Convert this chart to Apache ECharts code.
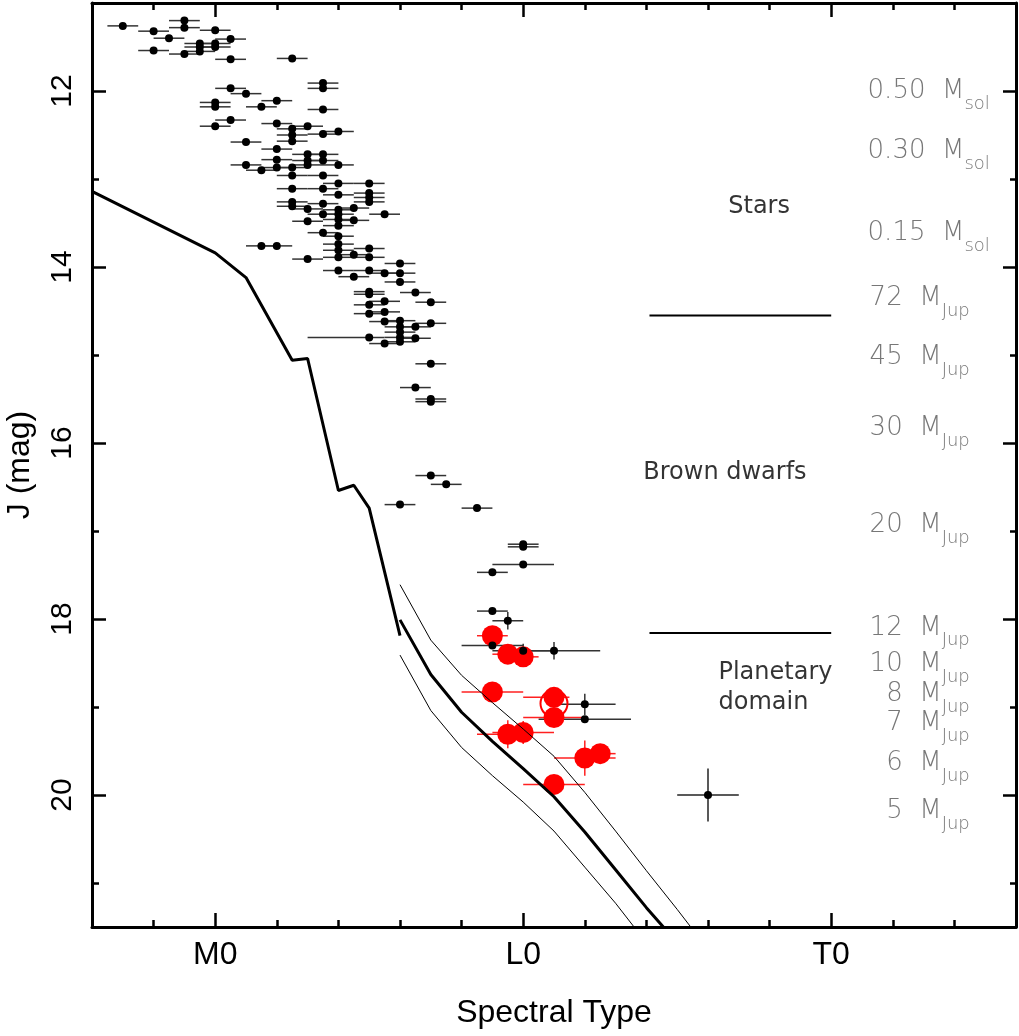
<!DOCTYPE html>
<html>
<head>
<meta charset="utf-8">
<script src="https://cdn.jsdelivr.net/npm/echarts@6/dist/echarts.min.js"></script>
<style>
    html, body { margin: 0; padding: 0; background: #fff; }
    #chart { width: 1019px; height: 1036px; }
</style>
</head>
<body>
<div id="chart"></div>
<script>
// spectral type: M0 = 0, L0 = 10, T0 = 20
var spectralTicks = [0, 10, 20];
var spectralNames = ['M0', 'L0', 'T0'];
var spectralMinor = [-2, 2, 4, 6, 8, 12, 14, 16, 18, 22, 24];
var jTicks = [12, 14, 16, 18, 20];
var jMinor = [13, 15, 17, 19, 21];

// field objects [spt, J], error in spt +-0.5
var fieldPoints = [
    [-3,11.26],[-2,11.32],[-1,11.20],[-1,11.28],[0,11.31],[-1.5,11.40],[0.5,11.41],[-0.5,11.46],[-0.5,11.50],[-0.5,11.55],
    [0,11.46],[0,11.50],[-2,11.54],[-1,11.58],[0.5,11.64],[2.5,11.63],
    [3.5,11.91],[3.5,11.97],[0.5,11.97],[1,12.03],[0,12.13],[0,12.18],[2,12.11],[1.5,12.18],[3.5,12.21],
    [0.5,12.33],[0,12.40],[2,12.37],[3,12.40],[2.5,12.43],[2.5,12.50],[2.5,12.57],[3.5,12.49],[4,12.46],[1,12.58],
    [2,12.66],[2,12.78],[3,12.72],[3,12.79],[3,12.84],[3.5,12.72],[3.5,12.79],[1,12.84],[1.5,12.90],[2,12.87],
    [2.5,12.87],[2.5,12.96],[4,12.84],[3.5,12.96],
    [4,13.05],[5,13.05],[2.5,13.11],[3.5,13.11],[4,13.18],[5,13.16],[5,13.21],[5,13.26],[2.5,13.26],[2.5,13.31],
    [3.5,13.28],[3,13.34],[4.5,13.33],[5.5,13.40],[3.5,13.40],[4,13.35],[4,13.40],[4,13.46],[4,13.53],[3,13.48],[4.5,13.47],
    [3.5,13.61],[4,13.65],[4,13.74],[4,13.81],[4,13.89],[1.5,13.76],[2,13.76],[5,13.79],[4.5,13.86],[5,13.89],[3,13.91],[6,13.96],
    [4,14.04],[4.5,14.11],[5,14.04],[5.5,14.07],[6,14.07],[6,14.17],[5,14.28],[5,14.31],[6.5,14.29],[7,14.40],[5.5,14.39],
    [5,14.43],[5,14.53],[5.5,14.51],[5.5,14.62],[6,14.61],[6,14.68],[6,14.74],[6,14.80],[6,14.85],[6.5,14.68],[7,14.64],
    [6.5,14.81],[5.5,14.87],
    [7,15.10],[6.5,15.37],[7,15.50],[7,15.53],[7,16.37],[7.5,16.47],[6,16.70],[8.5,16.74],[10,17.15],[10,17.18],[9,17.47],[9,17.91]
];
// field objects with their own errors [spt, J, err left, err right, err J]
var fieldPointsWide = [
    [5,14.80,2,0.5,0],[10,17.38,1,1,0],[9.5,18.02,0.5,0.5,0.1],[9,18.30,1,1,0],
    [10,18.36,1,1,0.08],[11,18.36,1,1.5,0.1],[12,18.97,1,1,0.12],[12,19.14,1.5,1.5,0]
];
// planetary-mass candidates [spt, J, err left, err right, err J]
var planetPoints = [
    [9,18.19,0.5,0.5,0.1],[9.5,18.40,0.5,0.5,0],[10,18.43,0.5,0.5,0],[9,18.83,1,1,0],[11,18.89,1,0.5,0],
    [11,19.12,1,1,0],[9.5,19.31,1,0.5,0.16],[10,19.29,1,1,0.13],[12,19.58,1,1,0.2],[12.5,19.53,0.5,0.5,0],[11,19.88,1,1,0]
];
var openCircles = [[11, 18.96]];
var typicalError = [[16, 20.0, 1, 1, 0.3]];

// isochrone tracks
var starCurve = [[-4,13.14],[0,13.84],[1,14.12],[2.5,15.06],[3,15.04],[4,16.54],[4.5,16.48],[5,16.74],[6,18.19]];
var trackMid = [[6,18.01],[7,18.63],[8,19.06],[9,19.39],[10,19.70],[11,20.02],[12,20.42],[13,20.85],[14,21.28],[14.55,21.5]];
var trackUpper = [[6,17.61],[7,18.24],[8,18.64],[9,18.95],[10,19.25],[11,19.56],[12,19.97],[13,20.41],[14,20.86],[15,21.3],[15.44,21.5]];
var trackLower = [[6,18.41],[7,19.04],[8,19.46],[9,19.78],[10,20.08],[11,20.41],[12,20.82],[13,21.23],[13.6,21.5]];

// domain boundaries
var boundaryJ = [14.55, 18.16];
var boundarySpt = [14.1, 20];

// mass scale on the right
var massValue = ['0.50','0.30','0.15','72','45','30','20','12','10','8','7','6','5'];
var massUnit = ['sol','sol','sol','Jup','Jup','Jup','Jup','Jup','Jup','Jup','Jup','Jup','Jup'];
var massJ = [12.0,12.68,13.62,14.36,15.03,15.83,16.94,18.10,18.51,18.86,19.18,19.64,20.19];

var regionNames = ['Stars', 'Brown dwarfs', 'Planetary\ndomain'];
var regionSpt = [17.66, 16.55, 16.34];
var regionJ = [13.31, 16.34, 18.78];
var regionAlign = ['center', 'center', 'left'];

var axisFont = 'Liberation Sans';
var myChart = echarts.init(document.getElementById('chart'), null, {renderer: 'canvas'});

function frame(pos, min, max, ticks, len, inverse) {
    return {
        type: 'value', position: pos, min: min, max: max, inverse: !!inverse,
        axisLine: {show: true, onZero: false, lineStyle: {color: '#000', width: 3}},
        axisTick: {show: true, inside: true, length: len, customValues: ticks, lineStyle: {color: '#000', width: 2.5}},
        axisLabel: {show: false},
        splitLine: {show: false}
    };
}

function errBars(color, width) {
    return function (params, api) {
        var x = api.value(0), y = api.value(1);
        var lo = api.value(2), hi = api.value(3), v = api.value(4);
        var a = api.coord([x - lo, y]), b = api.coord([x + hi, y]);
        var kids = [{type: 'line', shape: {x1: a[0], y1: a[1], x2: b[0], y2: b[1]}, style: {stroke: color, lineWidth: width}}];
        if (v > 0) {
            var c = api.coord([x, y - v]), d = api.coord([x, y + v]);
            kids.push({type: 'line', shape: {x1: c[0], y1: c[1], x2: d[0], y2: d[1]}, style: {stroke: color, lineWidth: width}});
        }
        return {type: 'group', children: kids};
    };
}

var fieldAll = fieldPoints.map(function (p) { return [p[0], p[1], 0.5, 0.5, 0]; }).concat(fieldPointsWide);

var xBottom = frame('bottom', -4, 26, spectralMinor, 7);
var xBottomMajor = frame('bottom', -4, 26, spectralTicks, 14);
xBottomMajor.axisLine = {show: false, onZero: false};
xBottomMajor.axisLabel = {
    show: true, customValues: spectralTicks, margin: 12, color: '#000', fontSize: 32, fontFamily: axisFont,
    formatter: function (v) { return spectralNames[spectralTicks.indexOf(v)]; }
};
xBottomMajor.name = 'Spectral Type';
xBottomMajor.nameLocation = 'middle';
xBottomMajor.nameGap = 70;
xBottomMajor.nameTextStyle = {color: '#000', fontSize: 32, fontFamily: axisFont};
var xTop = frame('top', -4, 26, spectralMinor, 7);
var xTopMajor = frame('top', -4, 26, spectralTicks, 14);
xTopMajor.axisLine = {show: false, onZero: false};

var yLeft = frame('left', 11, 21.5, jMinor, 7, true);
var yLeftMajor = frame('left', 11, 21.5, jTicks, 14, true);
yLeftMajor.axisLine = {show: false, onZero: false};
yLeftMajor.axisLabel = {show: true, customValues: jTicks, rotate: 90, margin: 14, color: '#000', fontSize: 30, fontFamily: axisFont};
yLeftMajor.name = 'J (mag)';
yLeftMajor.nameLocation = 'middle';
yLeftMajor.nameRotate = 90;
yLeftMajor.nameGap = 56;
yLeftMajor.nameTextStyle = {color: '#000', fontSize: 32, fontFamily: axisFont};
var yRight = frame('right', 11, 21.5, jMinor, 6, true);
var yRightMajor = frame('right', 11, 21.5, jTicks, 13, true);
yRightMajor.axisLine = {show: false, onZero: false};

function track(data, width) {
    return {type: 'line', data: data, showSymbol: false, silent: true, clip: true,
        lineStyle: {color: '#000', width: width}, itemStyle: {color: '#000'}};
}

myChart.setOption({
    animation: false,
    backgroundColor: '#fff',
    grid: {left: 92, right: 3, top: 3, bottom: 109, outerBoundsMode: 'none', containLabel: false},
    xAxis: [xBottom, xBottomMajor, xTop, xTopMajor],
    yAxis: [yLeft, yLeftMajor, yRight, yRightMajor],
    series: [
        track(starCurve, 3),
        track(trackMid, 3),
        track(trackUpper, 1),
        track(trackLower, 1),
        track([[boundarySpt[0], boundaryJ[0]], [boundarySpt[1], boundaryJ[0]]], 2),
        track([[boundarySpt[0], boundaryJ[1]], [boundarySpt[1], boundaryJ[1]]], 2),
        {
            type: 'custom', data: planetPoints, encode: {x: 0, y: 1}, silent: true, clip: true,
            renderItem: errBars('#ff2020', 1.5)
        },
        {
            type: 'scatter', data: planetPoints.map(function (p) { return [p[0], p[1]]; }),
            symbolSize: 21, itemStyle: {color: '#ff0000', opacity: 1}, silent: true
        },
        {
            type: 'scatter', data: openCircles, symbolSize: 27, silent: true,
            itemStyle: {color: 'rgba(0,0,0,0)', borderColor: '#ff0000', borderWidth: 2, opacity: 1}
        },
        {
            type: 'custom', data: fieldAll, encode: {x: 0, y: 1}, silent: true, clip: true,
            renderItem: errBars('#333', 1.5)
        },
        {
            type: 'scatter', data: fieldAll.map(function (p) { return [p[0], p[1]]; }),
            symbolSize: 8, itemStyle: {color: '#000', opacity: 1}, silent: true
        },
        {
            type: 'custom', data: typicalError, encode: {x: 0, y: 1}, silent: true,
            renderItem: errBars('#222', 1.5)
        },
        {
            type: 'scatter', data: typicalError.map(function (p) { return [p[0], p[1]]; }),
            symbolSize: 8, itemStyle: {color: '#000', opacity: 1}, silent: true
        },
        {
            type: 'scatter', symbolSize: 0, silent: true,
            data: massJ.map(function (j, i) {
                return {
                    value: [massUnit[i] === 'sol' ? 25.15 : 24.5, j],
                    label: {formatter: '{m|' + massValue[i] + '  M}{s|' + massUnit[i] + '}'}
                };
            }),
            label: {
                show: true, position: 'inside', align: 'right', verticalAlign: 'middle',
                rich: {
                    m: {fontSize: 26, color: '#555', fontFamily: 'DejaVu Sans', fontWeight: 200},
                    s: {fontSize: 18, color: '#555', fontFamily: 'DejaVu Sans', fontWeight: 200, padding: [26, 0, 0, 0]}
                }
            }
        },
        {
            type: 'scatter', symbolSize: 0, silent: true,
            data: regionNames.map(function (n, i) {
                return {value: [regionSpt[i], regionJ[i]], name: n, label: {align: regionAlign[i]}};
            }),
            label: {
                show: true, position: 'inside', verticalAlign: 'middle', lineHeight: 30,
                formatter: function (p) { return p.name; },
                fontSize: 24, color: '#000', fontFamily: 'DejaVu Sans'
            }
        }
    ]
});
window.addEventListener('resize', function () { myChart.resize(); });
</script>
</body>
</html>
